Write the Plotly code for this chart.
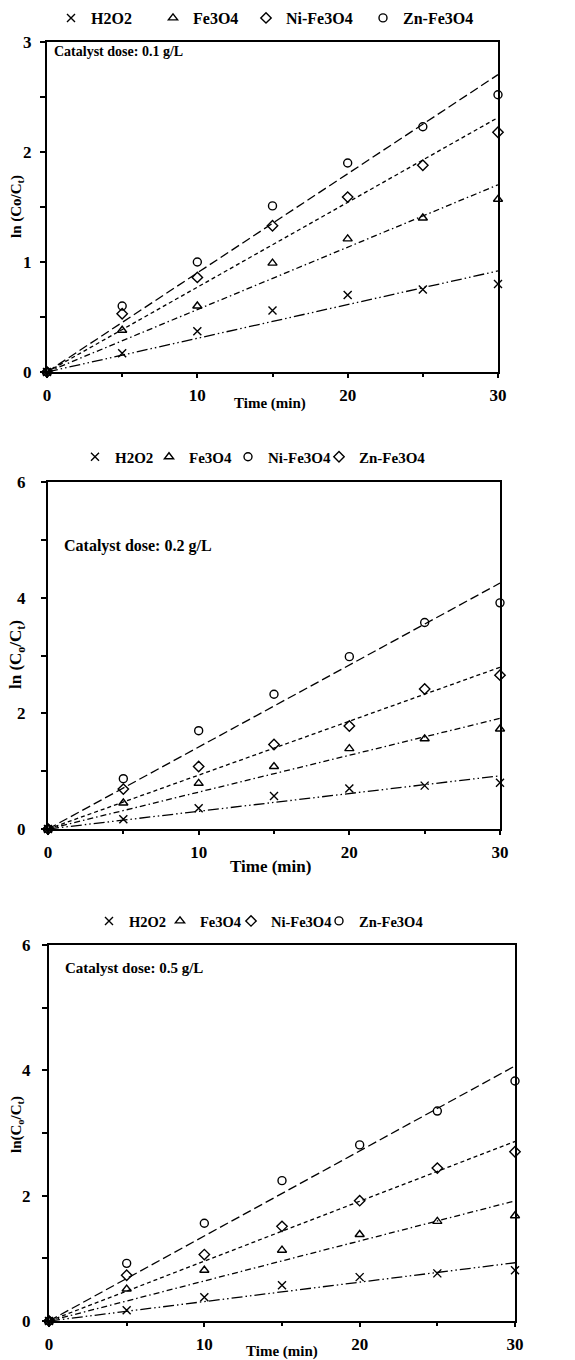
import plotly.graph_objects as go

W, H = 575, 1360

time_min = [0, 5, 10, 15, 20, 25, 30]
x_ticks = [0, 10, 20, 30]

# Panel 1: catalyst dose 0.1 g/L
p1_h2o2 = [0, 0.17, 0.37, 0.56, 0.70, 0.75, 0.80]
p1_fe3o4 = [0, 0.38, 0.60, 0.99, 1.21, 1.40, 1.57]
p1_ni = [0, 0.53, 0.86, 1.33, 1.59, 1.88, 2.18]
p1_zn = [0, 0.60, 1.00, 1.51, 1.90, 2.23, 2.52]
p1_names = ["H2O2", "Fe3O4", "Ni-Fe3O4", "Zn-Fe3O4"]
p1_symbols = ["x-thin", "triangle-up-open", "diamond-open", "circle-open"]

# Panel 2: catalyst dose 0.2 g/L (legend: circles = Ni-Fe3O4, diamonds = Zn-Fe3O4)
p2_h2o2 = [0, 0.17, 0.36, 0.57, 0.70, 0.75, 0.80]
p2_fe3o4 = [0, 0.45, 0.79, 1.08, 1.39, 1.56, 1.73]
p2_ni = [0, 0.87, 1.70, 2.33, 2.98, 3.57, 3.91]
p2_zn = [0, 0.69, 1.08, 1.46, 1.78, 2.42, 2.66]
p2_names = ["H2O2", "Fe3O4", "Ni-Fe3O4", "Zn-Fe3O4"]
p2_symbols = ["x-thin", "triangle-up-open", "circle-open", "diamond-open"]

# Panel 3: catalyst dose 0.5 g/L
p3_h2o2 = [0, 0.17, 0.38, 0.57, 0.70, 0.76, 0.81]
p3_fe3o4 = [0, 0.51, 0.81, 1.13, 1.38, 1.59, 1.68]
p3_ni = [0, 0.73, 1.06, 1.51, 1.92, 2.44, 2.70]
p3_zn = [0, 0.92, 1.56, 2.24, 2.81, 3.35, 3.83]
p3_names = ["H2O2", "Fe3O4", "Ni-Fe3O4", "Zn-Fe3O4"]
p3_symbols = ["x-thin", "triangle-up-open", "diamond-open", "circle-open"]

panel_labels = ["Catalyst dose: 0.1 g/L", "Catalyst dose: 0.2 g/L", "Catalyst dose: 0.5 g/L"]
y_titles = ["ln (Co/C<sub>t</sub>)", "ln (C<sub>o</sub>/C<sub>t</sub>)", "ln(C<sub>o</sub>/C<sub>t</sub>)"]
y_ranges = [[0, 3], [0, 6], [0, 6]]
y_dticks = [1, 2, 2]
y_minor = [0.5, 1, 1]

FONT = "Liberation Serif"
dash_by_symbol = {
    "x-thin": "11px,3px,1.5px,3px,1.5px,3px",
    "triangle-up-open": "6px,3px,1.5px,3px",
    "diamond-open": "4px,3px",
    "circle-open": "9px,4px",
}

panels = [
    dict(series=[p1_h2o2, p1_fe3o4, p1_ni, p1_zn], names=p1_names, symbols=p1_symbols,
         box=(47, 498, 42, 372), legend_y=18, legend_text_x=[91, 193, 286, 403],
         legend_size=16, label_xy=(52, 52), label_size=14,
         ytitle_xy=(17, 207), xtitle_xy=(270, 403), title_size=15, ystand=5),
    dict(series=[p2_h2o2, p2_fe3o4, p2_ni, p2_zn], names=p2_names, symbols=p2_symbols,
         box=(48, 500, 482, 829), legend_y=457, legend_text_x=[115, 189, 268, 359],
         legend_size=15, label_xy=(62, 546), label_size=16,
         ytitle_xy=(17, 655), xtitle_xy=(270, 866), title_size=17, ystand=12),
    dict(series=[p3_h2o2, p3_fe3o4, p3_ni, p3_zn], names=p3_names, symbols=p3_symbols,
         box=(49, 515, 945, 1321), legend_y=921, legend_text_x=[129, 200, 271, 359],
         legend_size=14.5, label_xy=(63, 968), label_size=15,
         ytitle_xy=(17, 1125), xtitle_xy=(282, 1351), title_size=15, ystand=8),
]


def fit_through_origin(t, y):
    num = sum(a * b for a, b in zip(t, y))
    den = sum(a * a for a in t)
    return num / den


fig = go.Figure()
annotations = []
layout_axes = {}
legend_count = 0

for i, p in enumerate(panels):
    n = i + 1
    xa = "x" if n == 1 else f"x{n}"
    ya = "y" if n == 1 else f"y{n}"
    for vals, name, sym in zip(p["series"], p["names"], p["symbols"]):
        k = fit_through_origin(time_min, vals)
        t_line = [time_min[0], time_min[-1]]
        fig.add_trace(go.Scatter(
            x=t_line, y=[k * t for t in t_line], mode="lines",
            line=dict(color="black", width=1.3, dash=dash_by_symbol[sym]),
            showlegend=False, hoverinfo="skip", xaxis=xa, yaxis=ya))
    for j, (vals, name, sym) in enumerate(zip(p["series"], p["names"], p["symbols"])):
        legend_count += 1
        lg = "legend" if legend_count == 1 else f"legend{legend_count}"
        fig.add_trace(go.Scatter(
            x=time_min, y=vals, mode="markers", name=name,
            marker=dict(symbol=sym, size=8, color="black",
                        line=dict(color="black", width=1.4)),
            cliponaxis=False, xaxis=xa, yaxis=ya, legend=lg))
        # legend text sits 40 px right of the legend's left edge
        layout_axes[lg] = dict(
            x=(p["legend_text_x"][j] - 40) / W, y=1 - p["legend_y"] / H,
            xanchor="left", yanchor="middle", orientation="h",
            bgcolor="rgba(0,0,0,0)", borderwidth=0, itemwidth=30,
            font=dict(family=FONT, size=p["legend_size"], color="black", weight="bold"))

    l, r, t, b = p["box"]
    xkey = "xaxis" if n == 1 else f"xaxis{n}"
    ykey = "yaxis" if n == 1 else f"yaxis{n}"
    layout_axes[xkey] = dict(
        domain=[l / W, r / W], anchor=ya, range=[0, 30], tickvals=x_ticks,
        showgrid=False, zeroline=False, showline=True, linecolor="black", linewidth=2,
        mirror=True, ticks="outside", ticklen=4, tickwidth=1.5, tickcolor="black",
        minor=dict(dtick=5, ticks="outside", ticklen=3, tickcolor="black", tickwidth=1.5),
        tickfont=dict(family=FONT, size=17, color="black", weight="bold"),
        ticklabelstandoff=3, fixedrange=True, automargin=False)
    layout_axes[ykey] = dict(
        domain=[1 - b / H, 1 - t / H], anchor=xa, range=y_ranges[i], dtick=y_dticks[i],
        tick0=0, showgrid=False, zeroline=False, showline=True, linecolor="black",
        linewidth=2, mirror=True, ticks="outside", ticklen=5, tickwidth=1.5,
        tickcolor="black",
        minor=dict(dtick=y_minor[i], ticks="outside", ticklen=5, tickcolor="black", tickwidth=1.5),
        tickfont=dict(family=FONT, size=17, color="black", weight="bold"),
        ticklabelstandoff=p["ystand"], fixedrange=True, automargin=False)

    ax, ay = p["label_xy"]
    annotations.append(dict(
        text=panel_labels[i], x=ax / W, y=1 - ay / H, xref="paper", yref="paper",
        xanchor="left", yanchor="middle", showarrow=False,
        font=dict(family=FONT, size=p["label_size"], color="black", weight="bold")))
    tx, ty = p["ytitle_xy"]
    annotations.append(dict(
        text=y_titles[i], x=tx / W, y=1 - ty / H, xref="paper", yref="paper",
        xanchor="center", yanchor="middle", showarrow=False, textangle=-90,
        font=dict(family=FONT, size=p["title_size"], color="black", weight="bold")))
    xx, xy = p["xtitle_xy"]
    annotations.append(dict(
        text="Time (min)", x=xx / W, y=1 - xy / H, xref="paper", yref="paper",
        xanchor="center", yanchor="middle", showarrow=False,
        font=dict(family=FONT, size=p["title_size"], color="black", weight="bold")))

fig.update_layout(
    width=W, height=H, margin=dict(l=0, r=0, t=0, b=0, autoexpand=False),
    paper_bgcolor="white", plot_bgcolor="white",
    annotations=annotations, **layout_axes)

fig.write_html("out.html", config={"displayModeBar": False},
               post_script="document.body.style.margin='0px';")
